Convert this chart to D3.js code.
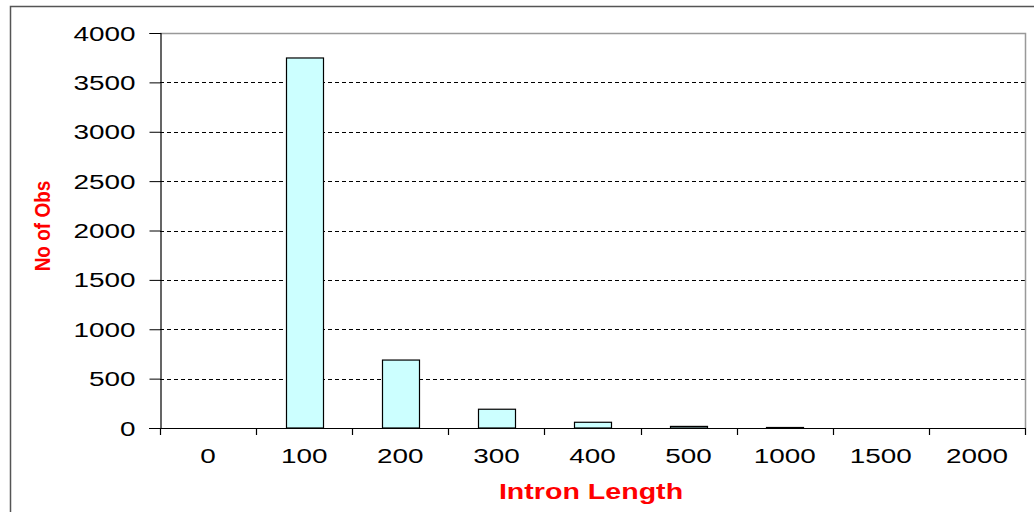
<!DOCTYPE html>
<html>
<head>
<meta charset="utf-8">
<script src="https://cdn.jsdelivr.net/npm/d3@7"></script>
<style>
  html, body { margin: 0; padding: 0; background: #fff; }
  svg { display: block; }
  text { font-family: "Liberation Sans", Arial, sans-serif; }
</style>
</head>
<body>
<svg id="chart" width="1034" height="512"></svg>
<script>
// Intron length histogram
const categories = ["0", "100", "200", "300", "400", "500", "1000", "1500", "2000"];
const counts = [0, 3747, 688, 190, 58, 16, 5, 0, 0];
const yTicks = [0, 500, 1000, 1500, 2000, 2500, 3000, 3500, 4000];

const svg = d3.select("#chart");
const W = 1034, H = 512;
const plot = { left: 160, right: 1025, top: 33, bottom: 428 };
const stretch = 1.43; // wide lettering used for the numeric labels

// outer chart frame (only top and left edges fall inside the view)
svg.append("rect")
  .attr("x", 10.5).attr("y", 6.5)
  .attr("width", W + 20).attr("height", H + 20)
  .attr("fill", "#fff").attr("stroke", "#555").attr("stroke-width", 1.5);

const x = d3.scaleBand()
  .domain(categories)
  .range([plot.left, plot.right])
  .paddingInner(0.615).paddingOuter(0.3075);

const y = d3.scaleLinear().domain([0, 4000]).range([plot.bottom, plot.top]);

// dashed gridlines
svg.append("g").selectAll("line")
  .data(yTicks.filter(t => t > 0 && t < 4000))
  .join("line")
  .attr("x1", plot.left).attr("x2", plot.right)
  .attr("y1", d => Math.round(y(d)) + 0.5).attr("y2", d => Math.round(y(d)) + 0.5)
  .attr("stroke", "#000").attr("stroke-width", 1)
  .attr("stroke-dasharray", "4,3");

// plot area border (top and right)
svg.append("path")
  .attr("d", `M${plot.left},${plot.top + 0.5}H${plot.right + 0.5}V${plot.bottom}`)
  .attr("fill", "none").attr("stroke", "#999").attr("stroke-width", 1.5);

// bars
svg.append("g").selectAll("rect")
  .data(counts.map((v, i) => ({ c: categories[i], v })).filter(d => d.v > 0))
  .join("rect")
  .attr("x", d => Math.round(x(d.c)) + 0.5)
  .attr("y", d => y(d.v))
  .attr("width", d => Math.round(x.bandwidth()))
  .attr("height", d => plot.bottom - y(d.v))
  .attr("fill", "#ccffff")
  .attr("stroke", "#000").attr("stroke-width", 1.2);

// y axis
const yAxis = d3.axisLeft(y).tickValues(yTicks).tickFormat(d3.format("d")).tickSize(11);
const gy = svg.append("g").attr("transform", `translate(${plot.left + 0.5},0)`).call(yAxis);
gy.select(".domain").attr("stroke", "#000").attr("stroke-width", 1.2);
gy.selectAll(".tick line").attr("stroke", "#000");
gy.selectAll(".tick text")
  .attr("x", 0).attr("dy", "0.36em")
  .attr("transform", `translate(-25,0) scale(${stretch},1)`)
  .attr("font-size", 19.5).attr("fill", "#000")
  .attr("font-family", "Liberation Sans, Arial, sans-serif");

// x axis: ticks sit on category boundaries
const boundaries = d3.range(categories.length + 1)
  .map(i => plot.left + (plot.right - plot.left) * i / categories.length);
const gx = svg.append("g");
gx.append("line")
  .attr("x1", plot.left - 11).attr("x2", plot.right + 1)
  .attr("y1", plot.bottom + 0.5).attr("y2", plot.bottom + 0.5)
  .attr("stroke", "#000").attr("stroke-width", 1.2);
gx.selectAll("line.tk")
  .data(boundaries)
  .join("line").attr("class", "tk")
  .attr("x1", d => Math.round(d) + 0.5).attr("x2", d => Math.round(d) + 0.5)
  .attr("y1", plot.bottom).attr("y2", plot.bottom + 7)
  .attr("stroke", "#000").attr("stroke-width", 1.2);
gx.selectAll("text")
  .data(categories)
  .join("text")
  .attr("transform", d => `translate(${x(d) + x.bandwidth() / 2},463) scale(${stretch},1)`)
  .attr("text-anchor", "middle")
  .attr("font-size", 19.5).attr("fill", "#000")
  .text(d => d);

// axis titles
svg.append("text")
  .attr("transform", "translate(591,499) scale(1.3,1)")
  .attr("text-anchor", "middle")
  .attr("font-size", 22).attr("font-weight", "bold").attr("fill", "#ff0000")
  .text("Intron Length");

svg.append("text")
  .attr("transform", "translate(50,226) scale(1.15,1) rotate(-90)")
  .attr("text-anchor", "middle")
  .attr("font-size", 19).attr("font-weight", "bold").attr("fill", "#ff0000")
  .text("No of Obs");
</script>
</body>
</html>
